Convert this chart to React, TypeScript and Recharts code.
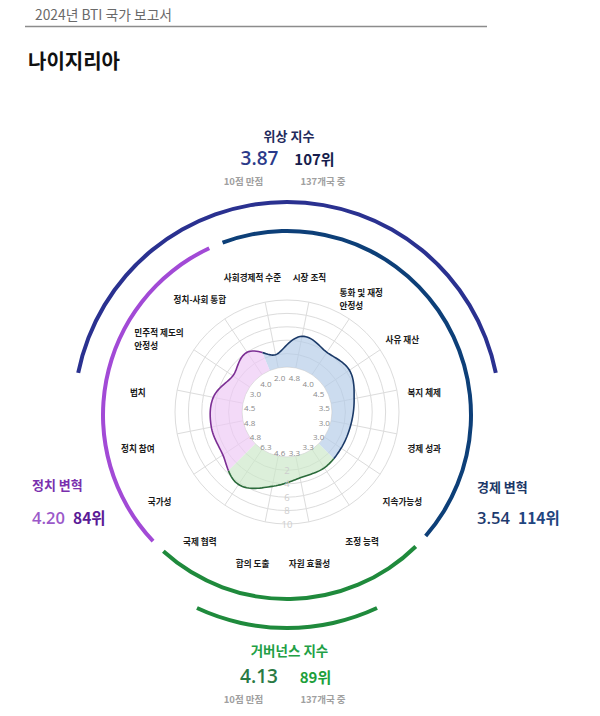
import React from "react";
import {
  RadarChart,
  Radar,
  PolarGrid,
  PolarAngleAxis,
  PolarRadiusAxis,
  PieChart,
  Pie,
  Cell,
} from "recharts";

// BTI criteria, clockwise from the top
const categories = [
  "사회경제적 수준",
  "시장 조직",
  "통화 및 재정\n안정성",
  "사유 재산",
  "복지 체제",
  "경제 성과",
  "지속가능성",
  "조정 능력",
  "자원 효율성",
  "합의 도출",
  "국제 협력",
  "국가성",
  "정치 참여",
  "법치",
  "민주적 제도의\n안정성",
  "정치-사회 통합",
];
const scores = [2.0, 4.8, 4.0, 4.5, 3.5, 3.0, 3.0, 3.3, 3.3, 4.6, 6.3, 4.8, 4.8, 4.5, 3.0, 4.0];
// 0 = economy, 1 = governance, 2 = politics
const sectionOf = [0, 0, 0, 0, 0, 0, 0, 1, 1, 1, 1, 2, 2, 2, 2, 2];
const sectionNames = ["경제 변혁", "거버넌스", "정치 변혁"];
const radiusTicks = [0, 2, 4, 6, 8, 10];

// index boxes
const indexNames = ["위상 지수", "정치 변혁", "경제 변혁", "거버넌스 지수"];
const indexScores = ["3.87", "4.20", "3.54", "4.13"];
const indexRanks = ["107위", "84위", "114위", "89위"];
const scoreNote = "10점 만점";
const rankNote = "137개국 중";

const data = categories.map((name, i) => ({
  name,
  score: scores[i],
  band: [0, scores[i]],
  section: sectionOf[i],
}));
const sectionData = sectionNames.map((name, s) => ({
  name,
  count: sectionOf.filter((v) => v === s).length,
}));
const statusArc = [{ name: indexNames[0], span: 1 }];
const governanceArc = [{ name: indexNames[3], span: 1 }];

const KR = "'Noto Sans CJK KR', 'Noto Sans', sans-serif";
const NUM = "'Open Sans', 'Noto Sans', sans-serif";

const SECTION_FILL = ["#b4cce8", "#cbe7c9", "#eec9f5"];
const SECTION_STROKE = ["#1b3a68", "#2a6a3a", "#7c2f94"];
const ARC_COLORS = ["#0d3f78", "#1f8a3c", "#a24ad6"];

const START = 101.25;
const END = START - 360;

// smooth polar bands through the radar points, one per section
const SmoothBands = (props: any) => {
  const { points, baseLinePoints } = props;
  if (!points || points.length < 3) return null;
  const n = points.length;
  const cx = points[0].cx;
  const cy = points[0].cy;
  const polar = points.map((p: any) => ({
    r: Math.hypot(p.x - cx, p.y - cy),
    a: Math.atan2(cy - p.y, p.x - cx),
  }));
  const a0 = polar[0].a;
  let step = polar[1].a - a0;
  while (step > Math.PI) step -= 2 * Math.PI;
  while (step < -Math.PI) step += 2 * Math.PI;
  const inner =
    baseLinePoints && baseLinePoints.length
      ? Math.hypot(baseLinePoints[0].x - cx, baseLinePoints[0].y - cy)
      : 45;

  const g = (k: number) => polar[((k % n) + n) % n].r;
  const rAt = (t: number) => {
    const i = Math.floor(t);
    const f = t - i;
    const p0 = g(i - 1), p1 = g(i), p2 = g(i + 1), p3 = g(i + 2);
    return (
      0.5 *
      (2 * p1 +
        (-p0 + p2) * f +
        (2 * p0 - 5 * p1 + 4 * p2 - p3) * f * f +
        (-p0 + 3 * p1 - 3 * p2 + p3) * f * f * f)
    );
  };
  const xy = (t: number, r: number) => {
    const a = a0 + step * t;
    return `${(cx + r * Math.cos(a)).toFixed(2)},${(cy - r * Math.sin(a)).toFixed(2)}`;
  };

  const out: React.ReactNode[] = [];
  const lines: React.ReactNode[] = [];
  for (let s = 0; s < 3; s++) {
    const idx = points
      .map((p: any, i: number) => (p.payload.section === s ? i : -1))
      .filter((i: number) => i >= 0);
    const ts = Math.min(...idx) - 0.5;
    const te = Math.max(...idx) + 0.5;
    const outer: string[] = [];
    const back: string[] = [];
    const N = Math.round((te - ts) * 16);
    for (let k = 0; k <= N; k++) {
      const t = ts + ((te - ts) * k) / N;
      outer.push(xy(t, rAt(t)));
      back.unshift(xy(t, inner));
    }
    out.push(
      <path
        key={`f${s}`}
        d={`M${outer.join("L")}L${back.join("L")}Z`}
        fill={SECTION_FILL[s]}
        fillOpacity={0.68}
        stroke="none"
      />
    );
    lines.push(
      <path
        key={`s${s}`}
        d={`M${outer.join("L")}`}
        fill="none"
        stroke={SECTION_STROKE[s]}
        strokeWidth={1.6}
      />
    );
  }
  return (
    <g>
      {out}
      {lines}
    </g>
  );
};

const RadiusTick = (props: any) => {
  const { x, y, payload } = props;
  if (payload.value === 0) return <g />;
  return (
    <text x={x} y={y} textAnchor="middle" dominantBaseline="central" fontSize={9.5} fontFamily={NUM} fill="#cdcdcd">
      {payload.value}
    </text>
  );
};

const textWidth = (s: string, fs: number) =>
  s.split("").reduce((w, c) => w + (c === " " ? 0.3 : /[\uac00-\ud7a3]/.test(c) ? 0.93 : 0.55) * fs, 0);

const CategoryTick = (props: any) => {
  const { x, y, payload } = props;
  const fs = 8.6;
  const lines = String(payload.value).split("\n");
  if (lines.length === 1) {
    return (
      <text x={x} y={y} textAnchor="middle" dominantBaseline="central" fontSize={fs} fontWeight={700} fontFamily={KR} fill="#1a1a1a">
        {lines[0]}
      </text>
    );
  }
  const w = Math.max(...lines.map((l) => textWidth(l, fs)));
  return (
    <text x={x - w / 2} y={y} textAnchor="start" fontSize={fs} fontWeight={700} fontFamily={KR} fill="#1a1a1a">
      {lines.map((l, i) => (
        <tspan key={i} x={x - w / 2} y={y + (i - (lines.length - 1) / 2) * 13} dominantBaseline="central">
          {l}
        </tspan>
      ))}
    </text>
  );
};

const ValueTick = (props: any) => {
  const { x, y, payload, index } = props;
  const i = typeof index === "number" ? index : categories.indexOf(payload.value);
  return (
    <text x={x} y={y} textAnchor="middle" dominantBaseline="central" fontSize={8} fontFamily={NUM} fill="#8a8a8a">
      {scores[i].toFixed(1)}
    </text>
  );
};

const layer: React.CSSProperties = { position: "absolute", left: 0, top: 0 };
const margin = { top: 0, right: 0, bottom: 0, left: 0 };

export default function App() {
  return (
    <div style={{ position: "absolute", left: 0, top: 0, width: 600, height: 716, background: "#fff" }}>
      <div style={layer}>
        <PieChart width={600} height={716} margin={margin}>
          <Pie
            data={sectionData}
            dataKey="count"
            cx={287}
            cy={415}
            innerRadius={182}
            outerRadius={186}
            startAngle={110.5}
            endAngle={-249.5}
            paddingAngle={4.5}
            stroke="none"
            isAnimationActive={false}
          >
            {sectionData.map((d, i) => (
              <Cell key={d.name} fill={ARC_COLORS[i]} />
            ))}
          </Pie>
          <Pie
            data={statusArc}
            dataKey="span"
            cx={287}
            cy={415}
            innerRadius={211}
            outerRadius={215}
            startAngle={168.6}
            endAngle={11.4}
            stroke="none"
            fill="#2a3190"
            isAnimationActive={false}
          />
          <Pie
            data={governanceArc}
            dataKey="span"
            cx={287}
            cy={415}
            innerRadius={211}
            outerRadius={215}
            startAngle={-65}
            endAngle={-115}
            stroke="none"
            fill="#1f8a3c"
            isAnimationActive={false}
          />
        </PieChart>
      </div>

      <div style={layer}>
        <RadarChart
          width={600}
          height={716}
          data={data}
          cx={287}
          cy={412}
          innerRadius={45}
          outerRadius={112}
          startAngle={START}
          endAngle={END}
          margin={margin}
        >
          <PolarGrid gridType="circle" stroke="#dcdcdc" strokeWidth={1} />
          <PolarAngleAxis dataKey="name" tick={false} tickLine={false} axisLine={false} />
          <PolarRadiusAxis
            type="number"
            angle={-90}
            domain={[0, 10]}
            ticks={radiusTicks}
            tick={RadiusTick}
            axisLine={false}
          />
          <Radar dataKey="band" shape={SmoothBands} isAnimationActive={false} />
        </RadarChart>
      </div>

      <div style={layer}>
        <RadarChart
          width={600}
          height={716}
          data={data}
          cx={287}
          cy={415}
          outerRadius={30}
          startAngle={START}
          endAngle={END}
          margin={margin}
        >
          <PolarAngleAxis dataKey="name" tick={ValueTick} tickLine={false} axisLine={false} />
          <Radar dataKey="score" stroke="none" fill="none" isAnimationActive={false} />
        </RadarChart>
      </div>

      <div style={layer}>
        <RadarChart
          width={600}
          height={716}
          data={data}
          cx={281}
          cy={420}
          outerRadius={138}
          startAngle={START}
          endAngle={END}
          margin={margin}
        >
          <PolarAngleAxis dataKey="name" tick={CategoryTick} tickLine={false} axisLine={false} />
          <Radar dataKey="score" stroke="none" fill="none" isAnimationActive={false} />
        </RadarChart>
      </div>

      <svg width={600} height={716} style={layer}>
        <text x={35} y={14} dominantBaseline="central" fontSize={13.8} fontFamily={KR} fill="#6a6a6a">
          2024년 BTI 국가 보고서
        </text>
        <line x1={25} x2={487} y1={26.5} y2={26.5} stroke="#8c8c8c" strokeWidth={1.5} />
        <text x={28} y={60} dominantBaseline="central" fontSize={20} fontWeight={700} fontFamily={KR} fill="#111">
          나이지리아
        </text>

        {/* status index */}
        <text x={289} y={135} textAnchor="middle" dominantBaseline="central" fontSize={13} fontWeight={700} fontFamily={KR} fill="#1f2a5c">
          {indexNames[0]}
        </text>
        <text x={259.5} y={158} textAnchor="middle" dominantBaseline="central" fontSize={19} fontWeight={600} fontFamily={NUM} fill="#2b3a8a">
          {indexScores[0]}
        </text>
        <text x={314.5} y={158} textAnchor="middle" dominantBaseline="central" fontSize={15} fontWeight={700} fontFamily={KR} fill="#161d4c">
          {indexRanks[0]}
        </text>
        <text x={243.5} y={181} textAnchor="middle" dominantBaseline="central" fontSize={9.5} fontWeight={700} fontFamily={KR} fill="#a0a0a0">
          {scoreNote}
        </text>
        <text x={323} y={181} textAnchor="middle" dominantBaseline="central" fontSize={9.5} fontWeight={700} fontFamily={KR} fill="#a0a0a0">
          {rankNote}
        </text>

        {/* political transformation */}
        <text x={32} y={484} dominantBaseline="central" fontSize={13} fontWeight={700} fontFamily={KR} fill="#7a2fae">
          {indexNames[1]}
        </text>
        <text x={32} y={517} dominantBaseline="central" fontSize={16.5} fontWeight={600} fontFamily={NUM} fill="#9b59c9">
          {indexScores[1]}
        </text>
        <text x={73} y={517} dominantBaseline="central" fontSize={15.5} fontWeight={700} fontFamily={KR} fill="#5a1a96">
          {indexRanks[1]}
        </text>

        {/* economic transformation */}
        <text x={477} y={486} dominantBaseline="central" fontSize={13} fontWeight={700} fontFamily={KR} fill="#1c3768">
          {indexNames[2]}
        </text>
        <text x={477} y={517} dominantBaseline="central" fontSize={16.5} fontWeight={600} fontFamily={NUM} fill="#1d3a6e">
          {indexScores[2]}
        </text>
        <text x={518} y={517} dominantBaseline="central" fontSize={15.5} fontWeight={700} fontFamily={KR} fill="#1f4580">
          {indexRanks[2]}
        </text>

        {/* governance index */}
        <text x={289.5} y={650} textAnchor="middle" dominantBaseline="central" fontSize={13.5} fontWeight={700} fontFamily={KR} fill="#22a045">
          {indexNames[3]}
        </text>
        <text x={259} y={676} textAnchor="middle" dominantBaseline="central" fontSize={19} fontWeight={600} fontFamily={NUM} fill="#2a7a45">
          {indexScores[3]}
        </text>
        <text x={315.5} y={676} textAnchor="middle" dominantBaseline="central" fontSize={15} fontWeight={700} fontFamily={KR} fill="#1da03a">
          {indexRanks[3]}
        </text>
        <text x={243.5} y={699} textAnchor="middle" dominantBaseline="central" fontSize={9.5} fontWeight={700} fontFamily={KR} fill="#a0a0a0">
          {scoreNote}
        </text>
        <text x={323} y={699} textAnchor="middle" dominantBaseline="central" fontSize={9.5} fontWeight={700} fontFamily={KR} fill="#a0a0a0">
          {rankNote}
        </text>
      </svg>
    </div>
  );
}
